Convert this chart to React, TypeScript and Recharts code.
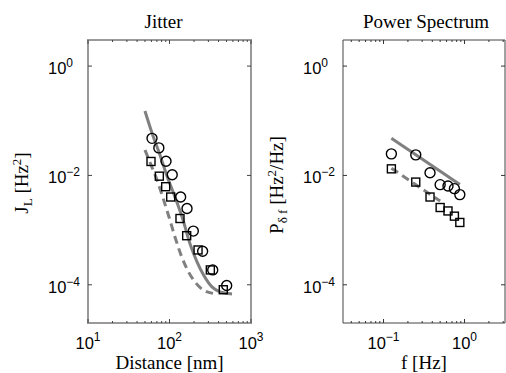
import React from "react";
import { ScatterChart, Scatter, XAxis, YAxis, ReferenceArea } from "recharts";

// ---------- Jitter panel data ----------
const distanceCircles = [61, 74, 90.6, 108, 137, 164, 196, 255, 339, 503];
const jitterCircles = [0.0477, 0.0319, 0.0182, 0.0103, 0.00403, 0.00248, 0.00096, 0.00041, 0.000187, 0.000097];
const distanceSquares = [59.3, 75, 89.8, 103.5, 134.5, 162.5, 224, 317, 457];
const jitterSquares = [0.018, 0.0097, 0.00622, 0.00403, 0.00163, 0.00079, 0.000433, 0.000187, 0.0000812];
const fitDistanceSolid = [50, 61, 76.4, 93.1, 116.7, 146.5, 178.6, 217.5, 265, 332, 417, 585];
const fitJitterSolid = [0.151, 0.0598, 0.0237, 0.0098, 0.00405, 0.00153, 0.00056, 0.000262, 0.000146, 0.0000914, 0.0000741, 0.0000681];
const fitDistanceDashed = [50, 59.3, 70.3, 83.2, 98.6, 116.7, 138.3, 168.7, 205.6, 257.6, 342];
const fitJitterDashed = [0.0292, 0.0156, 0.00828, 0.00388, 0.00174, 0.00075, 0.000352, 0.000179, 0.000113, 0.0000807, 0.0000697];

// ---------- Power spectrum panel data ----------
const freq = [0.125, 0.25, 0.375, 0.5, 0.625, 0.75, 0.875];
const psdCircles = [0.0248, 0.0238, 0.0112, 0.00678, 0.00639, 0.00573, 0.00446];
const psdSquares = [0.0132, 0.00756, 0.00403, 0.00259, 0.00224, 0.0018, 0.00138];
const fitFreqSolid = [0.125, 0.875];
const fitPsdSolid = [0.048, 0.00686];
const fitFreqDashed = [0.125, 0.5];
const fitPsdDashed = [0.0136, 0.0034];

// ---------- axes ----------
const distanceDomain = [10, 1000];
const distanceTicks = [10, 20, 30, 40, 50, 60, 70, 80, 90, 100, 200, 300, 400, 500, 600, 700, 800, 900, 1000];
const freqDomain = [0.0316, 3.16];
const freqTicks = [0.04, 0.05, 0.06, 0.07, 0.08, 0.09, 0.1, 0.2, 0.3, 0.4, 0.5, 0.6, 0.7, 0.8, 0.9, 1, 2, 3];
const yDomain = [2e-5, 3];
const yTicks = [1e-4, 1e-2, 1];

const SANS = "'Liberation Sans', Arial, Helvetica, sans-serif";
const SERIF = "'Liberation Serif', 'Times New Roman', Times, serif";
const GRAY = "#808080";

const W = 506;
const H = 373;
const PLOT_TOP = 40;
const PLOT_H = 283;
const X_AXIS_H = 30;
const Y_AXIS_W = 40;

const isDecade = (v: number) => Math.abs(Math.log10(v) - Math.round(Math.log10(v))) < 1e-9;
const expText = (v: number) => {
  const e = Math.round(Math.log10(v));
  return e < 0 ? "\u2212" + String(-e) : String(e);
};

const XTick = (props: any) => {
  const { x, y, payload, plotHeight, tickColor } = props;
  const v = payload.value;
  const major = isDecade(v);
  const len = major ? 4 : 2;
  return (
    <g>
      <line x1={x} x2={x} y1={y} y2={y - len} stroke={tickColor} strokeWidth={1} />
      <line x1={x} x2={x} y1={y - plotHeight} y2={y - plotHeight + len} stroke={tickColor} strokeWidth={1} />
      {major && (
        <text x={x} y={y + 26} textAnchor="middle" fontFamily={SANS} fontSize={16.5} fill="#000">
          <tspan>10</tspan>
          <tspan dy={-8} fontSize={12}>{expText(v)}</tspan>
        </text>
      )}
    </g>
  );
};

const YTick = (props: any) => {
  const { x, y, payload, plotWidth, tickColor } = props;
  const v = payload.value;
  return (
    <g>
      <line x1={x} x2={x + 4} y1={y} y2={y} stroke={tickColor} strokeWidth={1} />
      <line x1={x + plotWidth - 4} x2={x + plotWidth} y1={y} y2={y} stroke={tickColor} strokeWidth={1} />
      <text x={x - 40} y={y + 8} textAnchor="start" fontFamily={SANS} fontSize={16.5} fill="#000">
        <tspan>10</tspan>
        <tspan dy={-7} fontSize={12}>{expText(v)}</tspan>
      </text>
    </g>
  );
};

const toPoints = (xs: number[], ys: number[]) => xs.map((x, i) => ({ x, y: ys[i] }));

const CircleMark = (p: any) => (
  <circle cx={p.cx} cy={p.cy} r={5} fill="none" stroke="#000" strokeWidth={1.4} />
);
const SquareMark = (p: any) => (
  <rect x={p.cx - 4} y={p.cy - 4} width={8} height={8} fill="none" stroke="#000" strokeWidth={1.4} />
);
const NoMark = () => <g />;

export default function App() {
  // plot boxes in page pixels
  const leftPlotLeft = 88;
  const leftPlotW = 163;
  const rightPlotLeft = 343;
  const rightPlotW = 162;
  const bottomMargin = H - PLOT_TOP - PLOT_H - X_AXIS_H;
  const leftMargin = { top: PLOT_TOP, right: W - leftPlotLeft - leftPlotW, bottom: bottomMargin, left: leftPlotLeft - Y_AXIS_W };
  const rightMargin = { top: PLOT_TOP, right: W - rightPlotLeft - rightPlotW, bottom: bottomMargin, left: rightPlotLeft - Y_AXIS_W };

  return (
    <div style={{ position: "absolute", left: 0, top: 0, width: W, height: H, background: "#fff" }}>
      <div style={{ position: "absolute", left: 0, top: 0 }}>
        <ScatterChart width={W} height={H} margin={leftMargin}>
          <XAxis
            type="number"
            dataKey="x"
            scale="log"
            domain={distanceDomain}
            allowDataOverflow
            ticks={distanceTicks}
            interval={0}
            height={X_AXIS_H}
            tickSize={0}
            tickMargin={0}
            tickLine={false}
            axisLine={false}
            tick={<XTick plotHeight={PLOT_H} tickColor="#444" />}
          />
          <YAxis
            type="number"
            dataKey="y"
            scale="log"
            domain={yDomain}
            allowDataOverflow
            ticks={yTicks}
            interval={0}
            width={Y_AXIS_W}
            tickSize={0}
            tickMargin={0}
            tickLine={false}
            axisLine={false}
            tick={<YTick plotWidth={leftPlotW} tickColor="#444" />}
          />
          <Scatter
            data={toPoints(fitDistanceSolid, fitJitterSolid)}
            shape={NoMark}
            line={{ stroke: GRAY, strokeWidth: 3 }}
            lineJointType="monotoneX"
            isAnimationActive={false}
          />
          <Scatter
            data={toPoints(fitDistanceDashed, fitJitterDashed)}
            shape={NoMark}
            line={{ stroke: GRAY, strokeWidth: 3, strokeDasharray: "8 5" }}
            lineJointType="monotoneX"
            isAnimationActive={false}
          />
          <Scatter data={toPoints(distanceCircles, jitterCircles)} shape={CircleMark} isAnimationActive={false} />
          <Scatter data={toPoints(distanceSquares, jitterSquares)} shape={SquareMark} isAnimationActive={false} />
          <ReferenceArea
            x1={distanceDomain[0]}
            x2={distanceDomain[1]}
            y1={yDomain[0]}
            y2={yDomain[1]}
            fill="none"
            fillOpacity={0}
            stroke="#999"
            strokeWidth={2}
            ifOverflow="visible"
          />
          <text x={163.5} y={28} textAnchor="middle" fontFamily={SERIF} fontSize={19} fill="#000">
            Jitter
          </text>
          <text x={leftPlotLeft + leftPlotW / 2} y={369} textAnchor="middle" fontFamily={SERIF} fontSize={19} fill="#000">
            Distance [nm]
          </text>
          <text
            x={leftPlotLeft - 60}
            y={183}
            transform={`rotate(-90 ${leftPlotLeft - 60} 183)`}
            textAnchor="middle"
            fontFamily={SERIF}
            fontSize={19}
            fill="#000"
          >
            <tspan>J</tspan>
            <tspan dy={4} fontSize={13}>L</tspan>
            <tspan dy={-4}> [Hz</tspan>
            <tspan dy={-7} fontSize={13}>2</tspan>
            <tspan dy={7}>]</tspan>
          </text>
        </ScatterChart>
      </div>
      <div style={{ position: "absolute", left: 0, top: 0 }}>
        <ScatterChart width={W} height={H} margin={rightMargin}>
          <XAxis
            type="number"
            dataKey="x"
            scale="log"
            domain={freqDomain}
            allowDataOverflow
            ticks={freqTicks}
            interval={0}
            height={X_AXIS_H}
            tickSize={0}
            tickMargin={0}
            tickLine={false}
            axisLine={false}
            tick={<XTick plotHeight={PLOT_H} tickColor="#333" />}
          />
          <YAxis
            type="number"
            dataKey="y"
            scale="log"
            domain={yDomain}
            allowDataOverflow
            ticks={yTicks}
            interval={0}
            width={Y_AXIS_W}
            tickSize={0}
            tickMargin={0}
            tickLine={false}
            axisLine={false}
            tick={<YTick plotWidth={rightPlotW} tickColor="#333" />}
          />
          <Scatter
            data={toPoints(fitFreqSolid, fitPsdSolid)}
            shape={NoMark}
            line={{ stroke: GRAY, strokeWidth: 3 }}
            isAnimationActive={false}
          />
          <Scatter
            data={toPoints(fitFreqDashed, fitPsdDashed)}
            shape={NoMark}
            line={{ stroke: GRAY, strokeWidth: 3, strokeDasharray: "8 5" }}
            isAnimationActive={false}
          />
          <Scatter data={toPoints(freq, psdCircles)} shape={CircleMark} isAnimationActive={false} />
          <Scatter data={toPoints(freq, psdSquares)} shape={SquareMark} isAnimationActive={false} />
          <ReferenceArea
            x1={freqDomain[0]}
            x2={freqDomain[1]}
            y1={yDomain[0]}
            y2={yDomain[1]}
            fill="none"
            fillOpacity={0}
            stroke="#444"
            strokeWidth={1}
            ifOverflow="visible"
          />
          <text x={426} y={28} textAnchor="middle" fontFamily={SERIF} fontSize={19} fill="#000">
            Power Spectrum
          </text>
          <text x={rightPlotLeft + rightPlotW / 2} y={369} textAnchor="middle" fontFamily={SERIF} fontSize={19} fill="#000">
            f [Hz]
          </text>
          <text
            x={rightPlotLeft - 60}
            y={185}
            transform={`rotate(-90 ${rightPlotLeft - 60} 185)`}
            textAnchor="middle"
            fontFamily={SERIF}
            fontSize={19}
            fill="#000"
          >
            <tspan>P</tspan>
            <tspan dy={4} fontSize={13}>δ f</tspan>
            <tspan dy={-4}> [Hz</tspan>
            <tspan dy={-7} fontSize={13}>2</tspan>
            <tspan dy={7}>/Hz]</tspan>
          </text>
        </ScatterChart>
      </div>
    </div>
  );
}
